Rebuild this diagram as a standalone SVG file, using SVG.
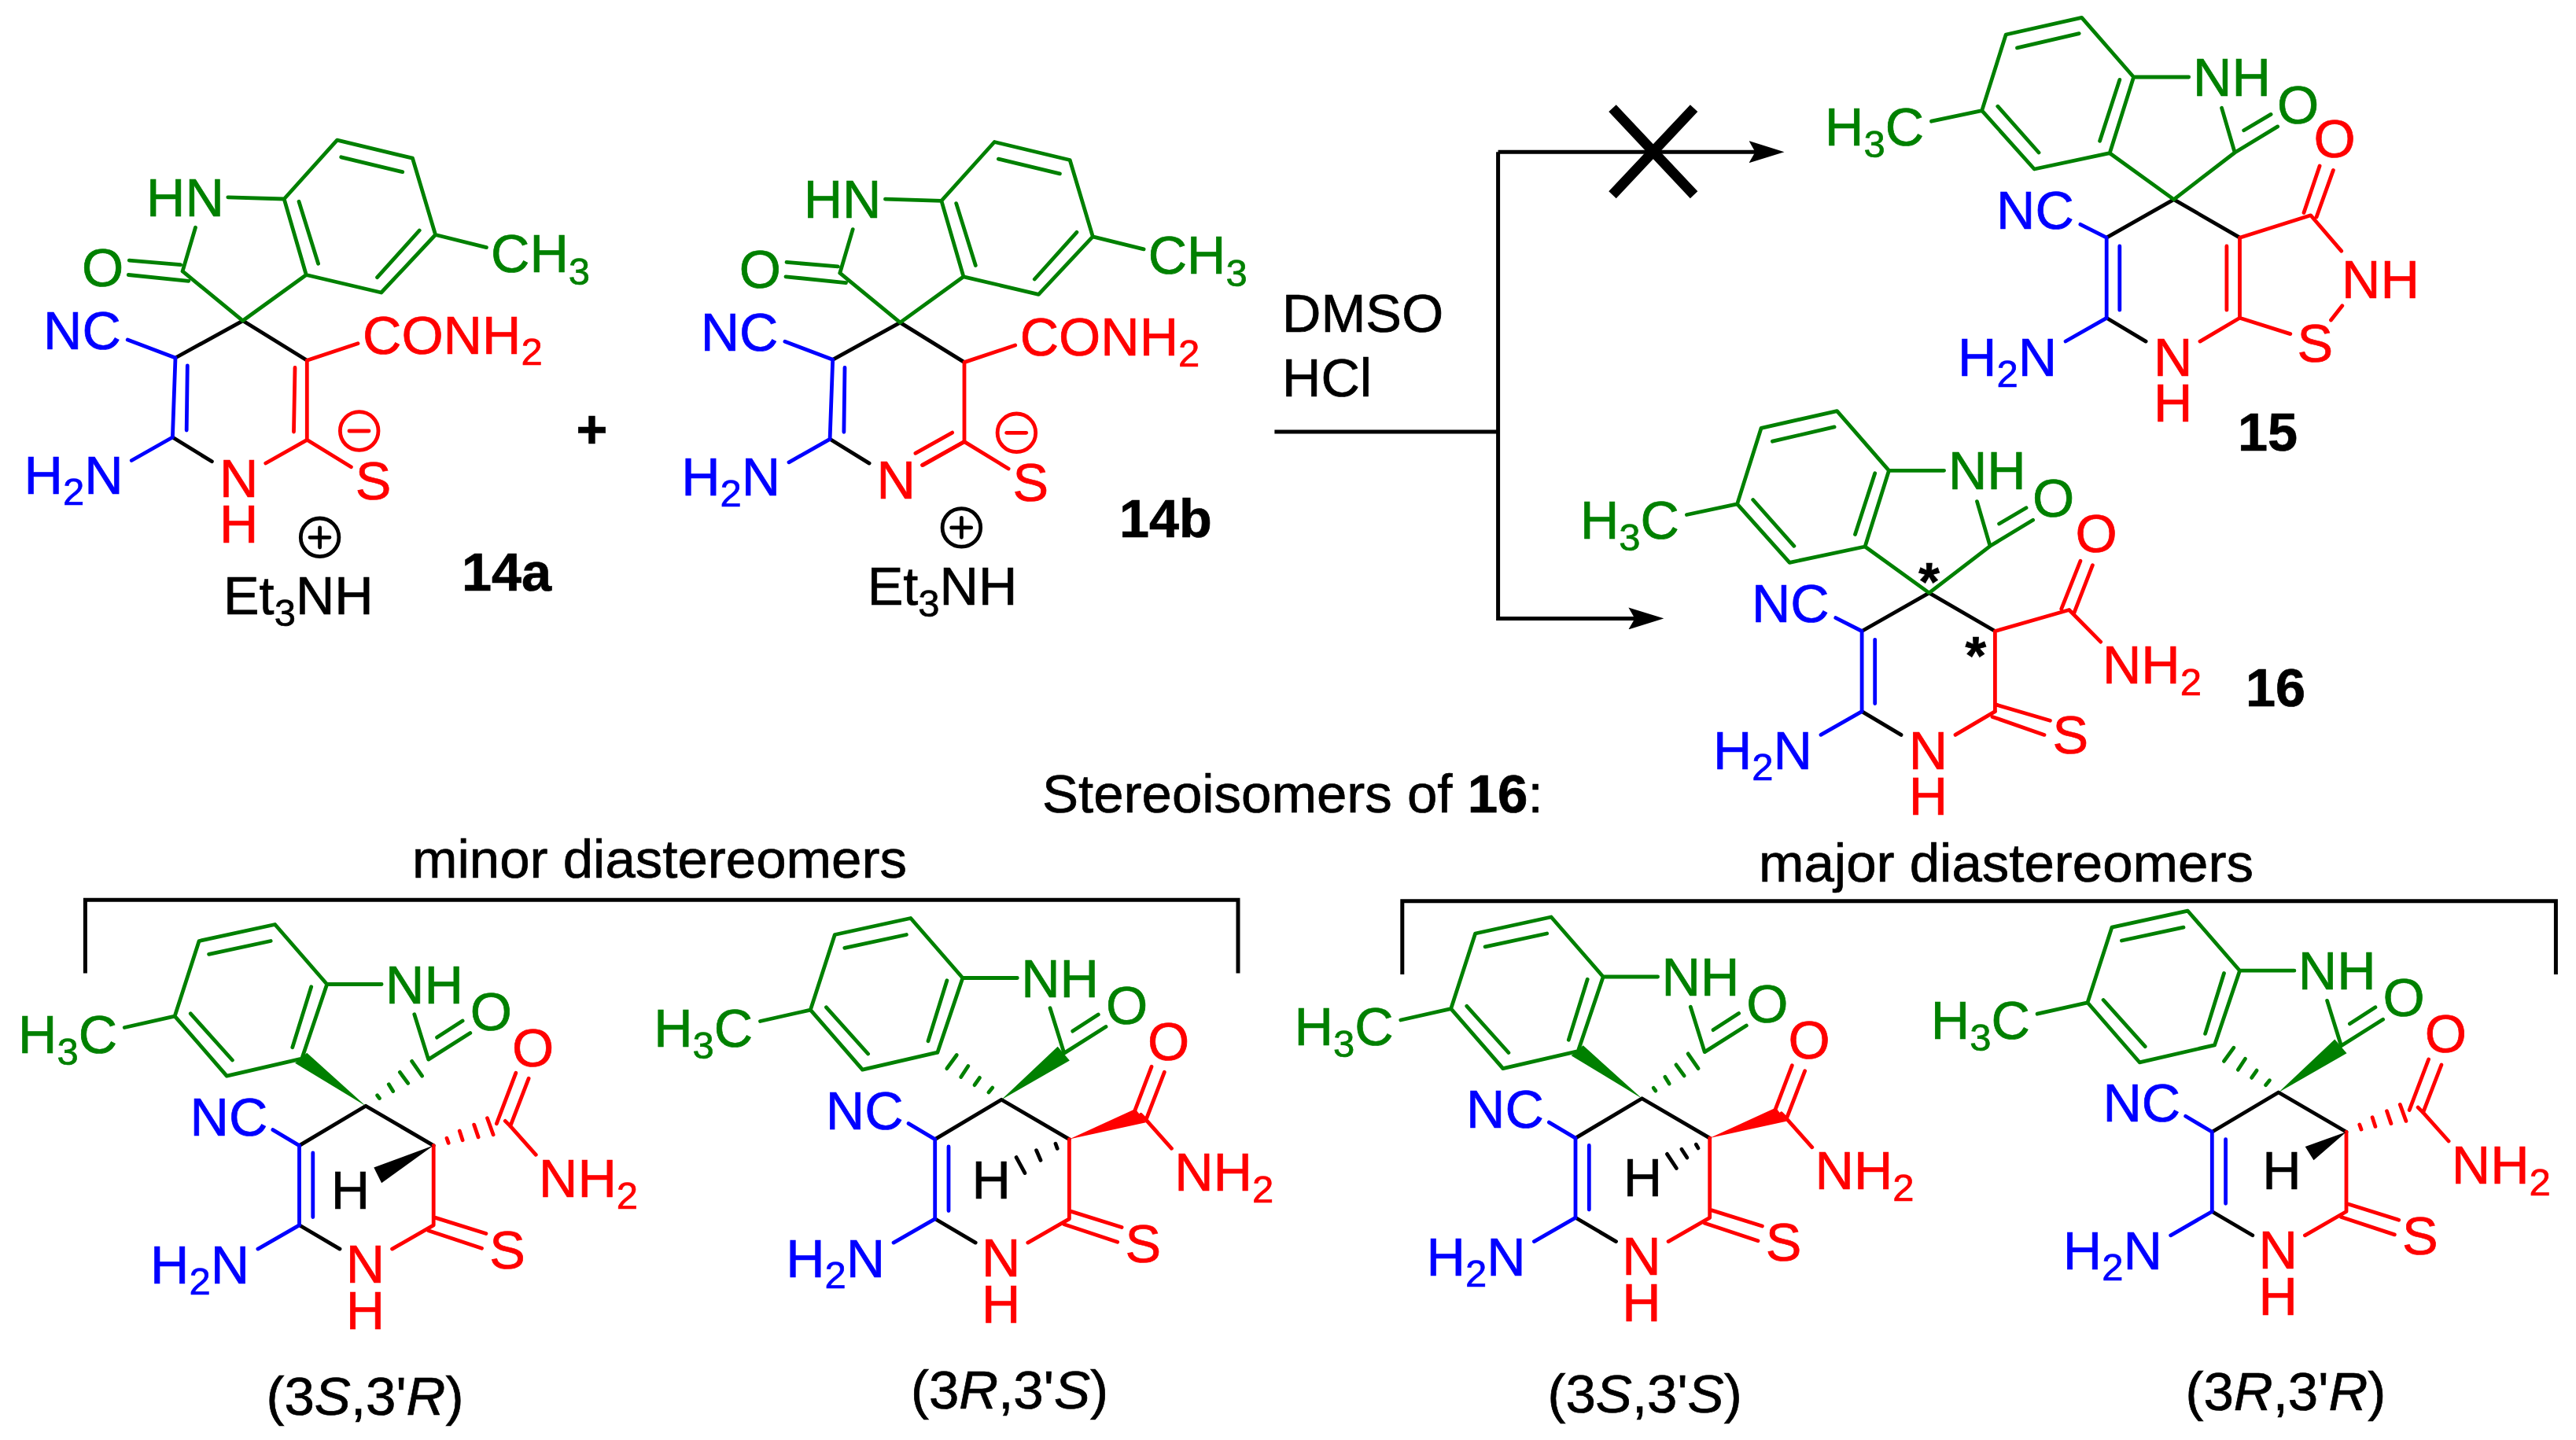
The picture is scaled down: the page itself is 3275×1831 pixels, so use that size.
<svg xmlns="http://www.w3.org/2000/svg" xmlns:xlink="http://www.w3.org/1999/xlink" width="3275" height="1831" viewBox="0 0 3275 1831">
<style>
text{font-family:"Liberation Sans",Arial,sans-serif;font-size:68.4px;fill:#000;stroke:#000;stroke-width:.7}
.lg{font-size:69px}
.s{font-size:49px}
.b{font-weight:bold}
.i{font-style:italic}
.gt{fill:#008000;stroke:#008000}.bt{fill:#0000ff;stroke:#0000ff}.rt{fill:#ff0000;stroke:#ff0000}
.m{text-anchor:middle}
.g,.u,.r,.k{fill:none;stroke-width:4.8;stroke-linecap:round;stroke-linejoin:round}
.g{stroke:#008000}.u{stroke:#0000ff}.r{stroke:#ff0000}.k{stroke:#000}
.gf{fill:#008000;stroke:none}.rf{fill:#ff0000;stroke:none}.kf{fill:#000;stroke:none}
.ln{fill:none;stroke:#000;stroke-width:5;stroke-linecap:butt;stroke-linejoin:miter}
.x{fill:none;stroke:#000;stroke-width:13}
</style>
<defs>
<marker id="arr" markerUnits="userSpaceOnUse" markerWidth="45" markerHeight="28" viewBox="0 0 45 28" refX="11.5" refY="14" orient="auto"><path d="M0,0L45,14L0,28L8,14Z" fill="#000"/></marker>
<g id="skelA">
<path class="k" d="M223,455L308.7,407.8L390.3,458.3M219.4,556L269.4,586.8"/>
<path class="u" d="M162.2,432L223,455L219.4,556L167.3,585.5M238.3,465L237.2,547"/>
<path class="r" d="M455,436.7L390.3,458.3L390.3,559.3L337.8,589M390.3,559.3L446.4,593.7"/>
<path class="g" d="M232.1,344.9L308.7,407.8L389.3,349.5L361.2,253L428.6,178.2L524.5,201.2L553.6,298.5L484.7,372L389.3,349.5M433.7,199.8L511.7,218.6M533.2,293L479.6,352.7M380,256.3L404.6,335.2M553.6,298.5L618.4,314.6M248.5,289.3L232.1,344.9M289.8,250.8L361.2,253M164.3,331.1L229.6,336.6M163.3,349.5L239.8,357.3"/>
<circle class="r" cx="456.7" cy="548" r="24.3"/>
<path class="r" d="M444,548H469"/>
</g>
<g id="skelB">
<path class="k" d="M2678.2,302.2L2763.7,253.6L2847.5,302.2M2678.2,404.3L2728.1,434.1"/>
<path class="u" d="M2644.9,285.3L2678.2,302.2V404.3L2626,434M2694.8,313V394.2"/>
<path class="r" d="M2797,434.1L2847.5,404.3"/>
<path class="g" d="M2841.2,194L2763.7,253.6L2682.2,194.7L2712.6,98L2646.6,22.3L2550.2,44L2519.7,140.6L2586.3,215L2682.2,194.7M2564.5,60.9L2643.2,42.6M2539.8,135.2L2592,194M2694.8,101.4L2669.6,179.2M2519.7,140.6L2455.5,154.2M2712.6,98H2782.7M2841.2,194L2824.6,137.3M2841.2,194L2895.7,160.9M2852.7,165.7L2887.1,145.4"/>
</g>
<g id="skelC">
<path class="k" d="M380.5,1456.6L465,1406.3L551.2,1456.6M380.5,1557.8L432,1588.1"/>
<path class="u" d="M346.9,1436.6L380.5,1456.6V1557.8L327.9,1588.1M397.8,1466V1547.6"/>
<path class="r" d="M551.2,1456.6V1557.8L498.6,1588.1M551.2,1547.6L617.9,1568.5M544.7,1564.8L612.5,1587.2M642.3,1425.4L648.8,1431.9L681.3,1468.3M655.8,1364.3L631.4,1428.7M672.1,1371.3L648.8,1431.9"/>
<path class="g" d="M383.7,1346.2L415.7,1251.5L349.6,1175.5L253.1,1196.5L222.2,1292.1L288.3,1368.1L383.7,1346.2M265.6,1213.3L344.2,1196.5M242.3,1288.8L295.4,1348M395.7,1254.8L371.8,1331.7M222.2,1292.1L158.3,1306.5M415.7,1251.5H485.1M526.8,1289.7L544.7,1347.1L597.8,1313.5M555.6,1319.1L588.1,1298.1"/>
</g>
<g id="spiroA">
<path class="gf" d="M465,1406.3L375.1,1351.7L390.2,1338.7Z"/>
<path class="g" d="M479.7,1392.8L482.4,1396.5M494.3,1378.8L499.7,1387.6M508.4,1363.4L518.7,1377.4M523.6,1349.4L536.6,1368.1"/>
</g>
<g id="spiroB">
<path class="gf" d="M465,1406.3L536.5,1338.8L551.7,1356.5Z"/>
<path class="g" d="M448.7,1397L453.6,1391M430.8,1387.7L437.3,1378.4M413.5,1377.5L422.7,1363.5M395.6,1366.7L408.1,1349.5"/>
</g>
<path id="amHash" class="r" d="M568,1447.3L570.2,1453.4M584.3,1438L588.1,1449.7M602.7,1430.1L608.1,1445.9M619.5,1421.7L627.1,1442.7"/>
<path id="amWedge" class="rf" d="M551.2,1456.6L635.2,1418L648.7,1435.3Z"/>
</defs>

<g id="connectors">
<path class="ln" d="M1620.4,549H1904.6"/>
<path class="ln" d="M1904.6,193.2V786.4H2081.9" marker-end="url(#arr)"/>
<path class="ln" d="M1904.6,193.2H2235" marker-end="url(#arr)"/>
<path class="x" d="M2050,137.6L2153.6,247.8M2153.6,137.6L2050,247.8"/>
<path class="ln" d="M108.4,1237.5V1144.3H1574V1237.5"/>
<path class="ln" d="M1782.8,1239V1145.7H3249.4V1239"/>
</g>

<g id="m14a">
<use href="#skelA"/>
<path class="r" d="M375,467.5L373.5,549"/>
<text class="gt" x="186" y="274.6">HN</text>
<text class="gt" x="104" y="364">O</text>
<text class="gt" x="624" y="345.8">CH<tspan class="s" dy="16">3</tspan></text>
<text class="bt" x="55" y="443.6">NC</text>
<text class="bt" x="30.5" y="628.2">H<tspan class="s" dy="14">2</tspan><tspan dy="-14">N</tspan></text>
<text class="rt" x="461" y="450">CONH<tspan class="s" dy="14">2</tspan></text>
<text class="rt m" x="303.6" y="631.8">N</text>
<text class="rt m" x="303.6" y="690">H</text>
<text class="rt m" x="474.5" y="635">S</text>
<circle class="k" cx="406.6" cy="683.3" r="24.3"/>
<path class="k" d="M394,683.3H419M406.6,671V696"/>
<text x="284" y="780.6">Et<tspan class="s" dy="15">3</tspan><tspan dy="-15">NH</tspan></text>
<text class="b" x="587" y="750.7">14a</text>
</g>
<g id="plus"><text class="b m" x="752.5" y="569">+</text></g>

<g id="m14b" transform="translate(835.7,2.3)">
<use href="#skelA"/>
<path class="r" d="M336.7,589.1L390.3,559.3M375,547.8L328.1,574"/>
<text class="gt" x="186" y="274.6">HN</text>
<text class="gt" x="104" y="364">O</text>
<text class="gt" x="624" y="345.8">CH<tspan class="s" dy="16">3</tspan></text>
<text class="bt" x="55" y="443.6">NC</text>
<text class="bt" x="30.5" y="628.2">H<tspan class="s" dy="14">2</tspan><tspan dy="-14">N</tspan></text>
<text class="rt" x="461" y="450">CONH<tspan class="s" dy="14">2</tspan></text>
<text class="rt m" x="303.6" y="631.4">N</text>
<text class="rt m" x="474.5" y="635">S</text>
<circle class="k" cx="386.7" cy="668.6" r="24.3"/>
<path class="k" d="M374,668.6H399M386.7,656V681"/>
<text x="267" y="766.8">Et<tspan class="s" dy="15">3</tspan><tspan dy="-15">NH</tspan></text>
<text class="b" x="587.3" y="681">14b</text>
</g>

<g id="reagents">
<text x="1630" y="422.3">DMSO</text>
<text x="1630" y="504">HCl</text>
</g>

<g id="m15">
<use href="#skelB"/>
<path class="r" d="M2847.5,404.3V302.2L2937.7,273.8L2976.7,319.1M2830.9,313V394.2M2949.1,211L2929,270.5M2966.4,216.4L2945.1,275.9M2977.8,388.8L2963.5,407M2847.5,404.3L2911.8,424.6"/>
<text class="gt" x="2788" y="121.7">NH</text>
<text class="gt m" x="2921.6" y="156.9">O</text>
<text class="gt" x="2320" y="184.6">H<tspan class="s" dy="15">3</tspan><tspan dy="-15">C</tspan></text>
<text class="bt" x="2538" y="290.7">NC</text>
<text class="bt" x="2489" y="478">H<tspan class="s" dy="14">2</tspan><tspan dy="-14">N</tspan></text>
<text class="rt m" x="2968" y="199.5">O</text>
<text class="rt" x="2977" y="378.6">NH</text>
<text class="rt m" x="2943.4" y="459.8">S</text>
<text class="rt m" x="2762.6" y="478">N</text>
<text class="rt m" x="2762.6" y="535.5">H</text>
<text class="b" x="2845" y="572.7">15</text>
</g>

<g id="m16" transform="translate(-311.1,500.3)">
<use href="#skelB"/>
<path class="r" d="M2847.5,404.3V302.2L2941.7,275.2L2981.8,315.8M2956,213L2931.9,273.9M2971.5,218.4L2947.4,280.6M2848.6,395.6L2917.5,415.9M2844.1,411.1L2910.1,434.1"/>
<text class="gt" x="2788" y="121.7">NH</text>
<text class="gt m" x="2921.6" y="156.9">O</text>
<text class="gt" x="2320" y="184.6">H<tspan class="s" dy="15">3</tspan><tspan dy="-15">C</tspan></text>
<text class="bt" x="2538" y="290.7">NC</text>
<text class="bt" x="2489" y="478">H<tspan class="s" dy="14">2</tspan><tspan dy="-14">N</tspan></text>
<text class="rt m" x="2976.1" y="201.5">O</text>
<text class="rt" x="2984" y="368.5">NH<tspan class="s" dy="15">2</tspan></text>
<text class="rt m" x="2943.4" y="457.8">S</text>
<text class="rt m" x="2762.6" y="478">N</text>
<text class="rt m" x="2762.6" y="535.5">H</text>
<text class="b m" x="2763.7" y="263">*</text>
<text class="b m" x="2822.8" y="356.5">*</text>
<text class="b" x="3166" y="397.6">16</text>
</g>

<g id="captions">
<text class="lg" x="1325" y="1033.3">Stereoisomers of <tspan class="b">16</tspan>:</text>
<text class="lg" x="524" y="1116">minor diastereomers</text>
<text class="lg" x="2236" y="1121">major diastereomers</text>
</g>

<g id="m3S3R">
<use href="#skelC"/><use href="#spiroA"/><use href="#amHash"/>
<path class="kf" d="M551.2,1456.6L475.3,1484.6L485.1,1504.2Z"/>
<text class="gt" x="490" y="1275.8">NH</text>
<text class="gt m" x="624.4" y="1309.8">O</text>
<text class="gt" x="23" y="1338.7">H<tspan class="s" dy="15">3</tspan><tspan dy="-15">C</tspan></text>
<text class="bt" x="241.6" y="1443.6">NC</text>
<text class="bt" x="191" y="1631.5">H<tspan class="s" dy="14">2</tspan><tspan dy="-14">N</tspan></text>
<text class="rt m" x="677.5" y="1355.5">O</text>
<text class="rt" x="685" y="1521.9">NH<tspan class="s" dy="15">2</tspan></text>
<text class="rt m" x="645" y="1612.8">S</text>
<text class="rt m" x="464.5" y="1630.5">N</text>
<text class="rt m" x="464.5" y="1689.7">H</text>
<text class="m" x="445.5" y="1537.3">H</text>
<text class="lg" x="338.5" y="1799">(3<tspan class="i">S</tspan>,3'<tspan class="i">R</tspan>)</text>
</g>

<g id="m3R3S" transform="translate(808.2,-8)">
<use href="#skelC"/><use href="#spiroB"/><use href="#amWedge"/>
<path class="k" d="M533.8,1462.3L536,1468.4M509.4,1470.7L514.8,1483.3M483.9,1479.6L494.8,1499.6"/>
<text class="gt" x="490" y="1275.8">NH</text>
<text class="gt m" x="624.4" y="1309.8">O</text>
<text class="gt" x="23" y="1338.7">H<tspan class="s" dy="15">3</tspan><tspan dy="-15">C</tspan></text>
<text class="bt" x="241.6" y="1443.6">NC</text>
<text class="bt" x="191" y="1631.5">H<tspan class="s" dy="14">2</tspan><tspan dy="-14">N</tspan></text>
<text class="rt m" x="677.5" y="1355.5">O</text>
<text class="rt" x="685" y="1521.9">NH<tspan class="s" dy="15">2</tspan></text>
<text class="rt m" x="645" y="1612.8">S</text>
<text class="rt m" x="464.5" y="1630.5">N</text>
<text class="rt m" x="464.5" y="1689.7">H</text>
<text class="m" x="452" y="1532.2">H</text>
<text class="lg" x="349.8" y="1799.4">(3<tspan class="i">R</tspan>,3'<tspan class="i">S</tspan>)</text>
</g>

<g id="m3S3S" transform="translate(1622.5,-9.5)">
<use href="#skelC"/><use href="#spiroA"/><use href="#amWedge"/>
<path class="k" d="M533.8,1464.7L536.5,1469.4M515.4,1470.8L522.4,1481.5M496.9,1476.9L508.9,1495"/>
<text class="gt" x="490" y="1275.8">NH</text>
<text class="gt m" x="624.4" y="1309.8">O</text>
<text class="gt" x="23" y="1338.7">H<tspan class="s" dy="15">3</tspan><tspan dy="-15">C</tspan></text>
<text class="bt" x="241.6" y="1443.6">NC</text>
<text class="bt" x="191" y="1631.5">H<tspan class="s" dy="14">2</tspan><tspan dy="-14">N</tspan></text>
<text class="rt m" x="677.5" y="1355.5">O</text>
<text class="rt" x="685" y="1521.9">NH<tspan class="s" dy="15">2</tspan></text>
<text class="rt m" x="645" y="1612.8">S</text>
<text class="rt m" x="464.5" y="1630.5">N</text>
<text class="rt m" x="464.5" y="1689.7">H</text>
<text class="m" x="466" y="1530.5">H</text>
<text class="lg" x="345" y="1805.1">(3<tspan class="i">S</tspan>,3'<tspan class="i">S</tspan>)</text>
</g>

<g id="m3R3R" transform="translate(2431.8,-17.3)">
<use href="#skelC"/><use href="#spiroB"/><use href="#amHash"/>
<path class="kf" d="M551.2,1456.6L498.9,1475.3L509.7,1492.6Z"/>
<text class="gt" x="490" y="1275.8">NH</text>
<text class="gt m" x="624.4" y="1309.8">O</text>
<text class="gt" x="23" y="1338.7">H<tspan class="s" dy="15">3</tspan><tspan dy="-15">C</tspan></text>
<text class="bt" x="241.6" y="1443.6">NC</text>
<text class="bt" x="191" y="1631.5">H<tspan class="s" dy="14">2</tspan><tspan dy="-14">N</tspan></text>
<text class="rt m" x="677.5" y="1355.5">O</text>
<text class="rt" x="685" y="1521.9">NH<tspan class="s" dy="15">2</tspan></text>
<text class="rt m" x="645" y="1612.8">S</text>
<text class="rt m" x="464.5" y="1630.5">N</text>
<text class="rt m" x="464.5" y="1689.7">H</text>
<text class="m" x="469.1" y="1529">H</text>
<text class="lg" x="346.7" y="1810.5">(3<tspan class="i">R</tspan>,3'<tspan class="i">R</tspan>)</text>
</g>
</svg>
